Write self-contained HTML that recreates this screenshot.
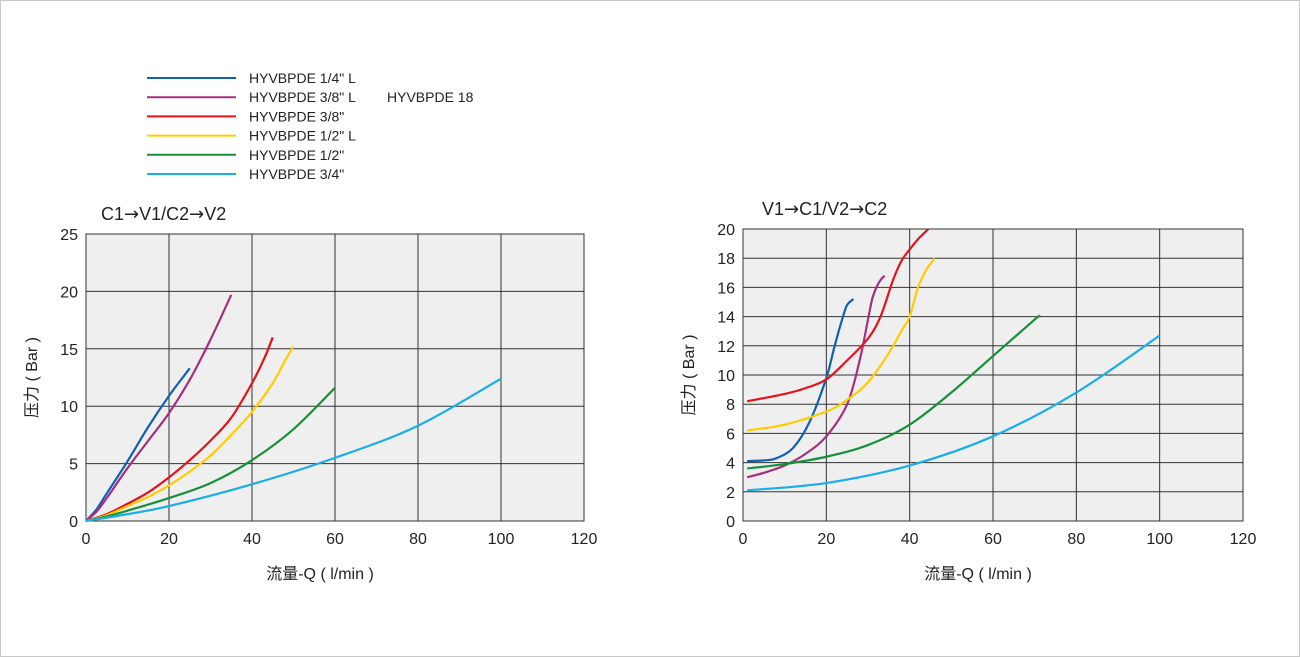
<!DOCTYPE html>
<html><head><meta charset="utf-8"><style>
body{margin:0;background:#fff;}
svg{display:block;font-family:"Liberation Sans","Noto Sans CJK SC",sans-serif;}
</style></head><body>
<svg id="s" width="1300" height="657">
<rect x="0.5" y="0.5" width="1299" height="656" fill="#fff" stroke="#c8c8c8"/>
<g id="legend"></g>
<g id="c1"></g>
<g id="c2"></g>
</svg>
<script>
const seriesNames=['HYVBPDE 1/4" L','HYVBPDE 3/8" L','HYVBPDE 3/8"','HYVBPDE 1/2" L','HYVBPDE 1/2"','HYVBPDE 3/4"'];
const seriesColors=['#1062b0','#a3307f','#e5121c','#ffcc00','#16913b','#1aaee8'];
const xTicks=[0,20,40,60,80,100,120];
const yTicksLeft=[0,5,10,15,20,25];
const yTicksRight=[0,2,4,6,8,10,12,14,16,18,20];
// left chart C1->V1/C2->V2
const L_blue=[[0,0],[2.5,1],[5,2.4],[10,5.2],[15,8.2],[20,10.9],[25,13.3]];
const L_purple=[[0,0],[2.5,0.8],[5,2],[10,4.6],[15,7],[20,9.4],[25,12.3],[30,15.8],[35,19.7]];
const L_red=[[0,0],[5,0.6],[10,1.5],[15,2.5],[20,3.8],[25,5.3],[30,7],[35,9],[40,12],[43,14.2],[45,16]];
const L_yellow=[[0,0],[5,0.5],[10,1.3],[15,2.1],[20,3.1],[25,4.3],[30,5.7],[35,7.5],[40,9.5],[45,12],[48,14],[50,15.2]];
const L_green=[[0,0],[5,0.4],[10,0.9],[20,2],[30,3.3],[40,5.3],[50,8],[60,11.6]];
const L_cyan=[[0,0],[10,0.6],[20,1.3],[40,3.2],[60,5.5],[80,8.3],[100,12.4]];
// right chart V1->C1/V2->C2
const R_blue=[[1,4.1],[5,4.15],[8,4.3],[12,5],[16,6.8],[20,9.8],[22,12],[24,14],[25,14.8],[26.5,15.2]];
const R_purple=[[1,3],[5,3.3],[10,3.8],[15,4.6],[20,5.8],[25,8],[28,11],[30,13.8],[31,15.2],[32,16],[33,16.5],[34,16.8]];
const R_red=[[1,8.2],[10,8.7],[15,9.1],[20,9.7],[25,11],[30,12.5],[33,14],[36,16.5],[38,17.8],[40,18.6],[42,19.3],[44.5,20]];
const R_yellow=[[1,6.2],[10,6.6],[20,7.5],[25,8.3],[30,9.5],[35,11.5],[38,13],[40,14],[42,16],[44,17.2],[46,18]];
const R_green=[[1,3.6],[10,3.9],[20,4.4],[30,5.2],[40,6.6],[50,8.8],[60,11.3],[70,13.8],[71,14]];
const R_cyan=[[1,2.1],[20,2.6],[40,3.8],[60,5.8],[80,8.8],[100,12.7]];

const NS='http://www.w3.org/2000/svg';
function mk(p,t,a,txt){const e=document.createElementNS(NS,t);for(const k in a)e.setAttribute(k,a[k]);if(txt!==undefined)e.textContent=txt;p.appendChild(e);return e;}
function smooth(pts){let d='M'+pts[0][0]+','+pts[0][1];for(let i=0;i<pts.length-1;i++){const p0=pts[i-1]||pts[i],p1=pts[i],p2=pts[i+1],p3=pts[i+2]||p2;
d+=' C'+(p1[0]+(p2[0]-p0[0])/6)+','+(p1[1]+(p2[1]-p0[1])/6)+' '+(p2[0]-(p3[0]-p1[0])/6)+','+(p2[1]-(p3[1]-p1[1])/6)+' '+p2[0]+','+p2[1];}return d;}

function chart(g,x0,x1,y0,y1,ymax,yticks,series,title,tx){
  const sx=v=>x0+(x1-x0)*v/120, sy=v=>y0-(y0-y1)*v/ymax;
  let r=mk(g,'rect',{x:x0,y:y1,width:x1-x0,height:y0-y1,fill:'#efefef',stroke:'#333','stroke-width':1});
  
  xTicks.forEach(v=>{let l=mk(g,'line',{x1:sx(v),x2:sx(v),y1:y1,y2:y0,stroke:'#333','stroke-width':1});
    
    let t=mk(g,'text',{x:sx(v),y:y0+23,'text-anchor':'middle','font-size':16,fill:'#222'},v);
    });
  yticks.forEach(v=>{let l=mk(g,'line',{x1:x0,x2:x1,y1:sy(v),y2:sy(v),stroke:'#333','stroke-width':1});
    
    let t=mk(g,'text',{x:x0-8,y:sy(v)+6,'text-anchor':'end','font-size':16,fill:'#222'},v);
    });
  series.forEach((s,i)=>{let p=mk(g,'path',{d:smooth(s.map(q=>[sx(q[0]),sy(q[1])])),fill:'none',stroke:seriesColors[i],'stroke-width':2.2});
    });
  let t=mk(g,'text',{x:tx,y:y1-14,'font-size':18,fill:'#222'});
  
  title.split('→').forEach((part,k)=>{
    if(k>0){mk(t,'tspan',{'font-family':'DejaVu Sans, sans-serif','font-size':18},'→');}
    mk(t,'tspan',{},part);
  });
  let xt=mk(g,'text',{x:(x0+x1)/2-15,y:y0+58,'text-anchor':'middle','font-size':16,fill:'#222'},'流量-Q ( l/min )');
  
  const cy=(y0+y1)/2, cx=x0-49;
  let yt=mk(g,'text',{x:cx,y:cy,'text-anchor':'middle','font-size':16,fill:'#222',transform:'rotate(-90 '+cx+' '+cy+')'},'压力 ( Bar )');
  
}
chart(document.getElementById('c1'),86,584,521,234,25,yTicksLeft,[L_blue,L_purple,L_red,L_yellow,L_green,L_cyan],'C1→V1/C2→V2',101);
chart(document.getElementById('c2'),743,1243,521,229,20,yTicksRight,[R_blue,R_purple,R_red,R_yellow,R_green,R_cyan],'V1→C1/V2→C2',762);
const lg=document.getElementById('legend');
seriesNames.forEach((n,i)=>{const y=78+i*19.2;
  let l=mk(lg,'line',{x1:147,x2:236,y1:y,y2:y,stroke:seriesColors[i],'stroke-width':2});
  
  let t=mk(lg,'text',{x:249,y:y+5,'font-size':14,fill:'#222'},n);
  });
let ex=mk(lg,'text',{x:387,y:102,'font-size':14,fill:'#222'},'HYVBPDE 18');


</script>
</body></html>
